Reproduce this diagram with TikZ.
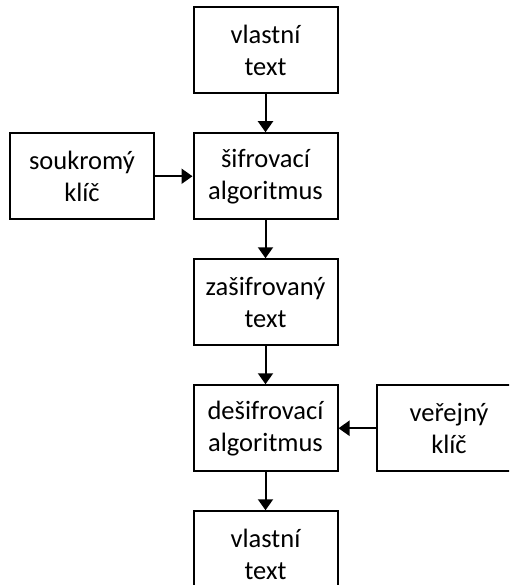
\documentclass[tikz,border=0pt]{standalone}
\usepackage{fontspec}
\setmainfont{Carlito}
\usetikzlibrary{arrows.meta,positioning}
\tikzset{
  box/.style={
    rectangle,
    draw=black,
    line width=2pt,
    fill=white,
    align=center,
    minimum width=144pt,
    minimum height=86pt,
    inner sep=0pt,
    font=\fontsize{26.5}{32}\selectfont
  },
  arrow/.style={
    -{Triangle[length=11pt,width=15pt]},
    line width=2pt,
    draw=black
  }
}
\begin{document}
\begin{tikzpicture}[node distance=38pt and 37.5pt]
  \useasboundingbox (0,0) rectangle (509pt,-585pt);
  \clip (0,0) rectangle (509pt,-585pt);

  \node[box] (plain) at (265.5pt,-50.25pt) {vlastní\\text};
  \node[box, below=of plain] (enc) {šifrovací\\algoritmus};
  \node[box, below=of enc] (cipher) {zašifrovaný\\text};
  \node[box, below=of cipher] (dec) {dešifrovací\\algoritmus};
  \node[box, below=of dec] (result) {vlastní\\text};

  \node[box, left=of enc] (privkey) {soukromý\\klíč};
  \node[box, right=of dec] (pubkey) {veřejný\\klíč};

  \draw[arrow] (plain) -- (enc);
  \draw[arrow] (privkey) -- (enc);
  \draw[arrow] (enc) -- (cipher);
  \draw[arrow] (cipher) -- (dec);
  \draw[arrow] (pubkey) -- (dec);
  \draw[arrow] (dec) -- (result);
\end{tikzpicture}
\end{document}
